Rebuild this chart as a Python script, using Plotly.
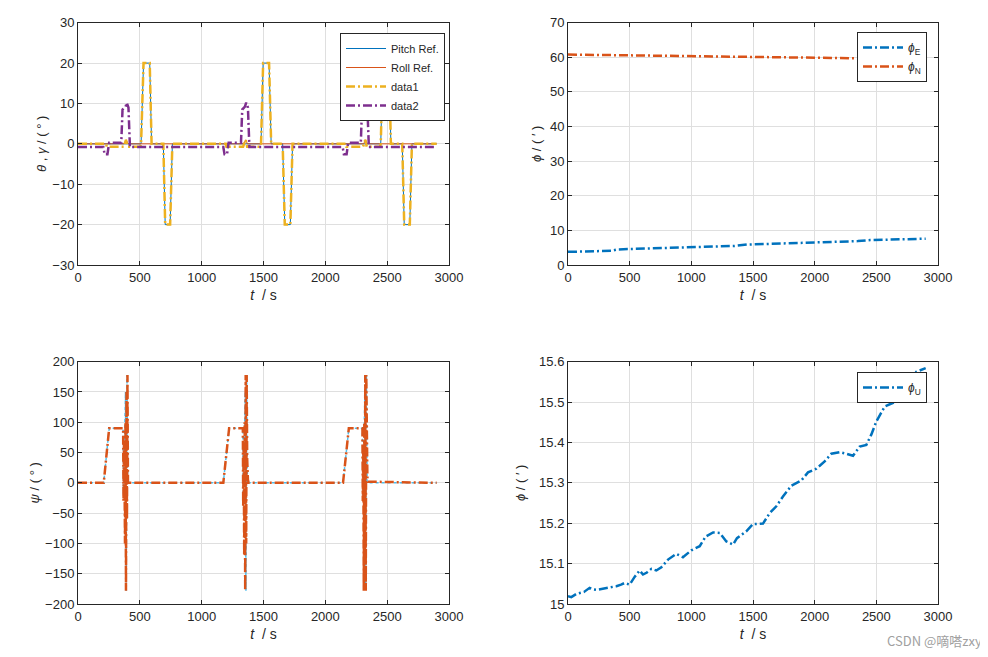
import plotly.graph_objects as go

# ---------------- data ----------------
# Top-left: pitch / roll reference and estimates (deg)
pitch_ref_t = [0, 510, 530, 580, 595, 690, 705, 745, 763, 1480, 1497, 1545, 1562, 1655, 1672, 1717, 1735,
               2448, 2465, 2515, 2530, 2622, 2638, 2683, 2700, 2900]
pitch_ref_v = [0, 0, 20, 20, 0, 0, -20, -20, 0, 0, 20, 20, 0, 0, -20, -20, 0,
               0, 20, 20, 0, 0, -20, -20, 0, 0]

roll_ref_t = [0, 375, 390, 405, 1340, 1356, 1370, 2310, 2325, 2340, 2900]
roll_ref_v = [0, 0, 1, 0, 0, 1, 0, 0, 1, 0, 0]

data1_t = [0, 228, 232, 370, 388, 400, 505, 510, 530, 580, 595, 690, 705, 745, 763,
           1195, 1200, 1335, 1355, 1368, 1475, 1480, 1497, 1545, 1562, 1655, 1672, 1717, 1735,
           2165, 2170, 2305, 2323, 2335, 2443, 2448, 2465, 2515, 2530, 2622, 2638, 2683, 2700, 2900]
data1_v = [0, 0, -0.7, -0.7, 1, -0.7, -0.7, 0, 20, 20, 0, 0, -20, -20, 0,
           0, -0.7, -0.7, 1, -0.7, -0.7, 0, 20, 20, 0, 0, -20, -20, 0,
           0, -0.7, -0.7, 1, -0.7, -0.7, 0, 20, 20, 0, 0, -20, -20, 0, 0]

data2_t = [0, 205, 215, 238, 252, 350, 360, 385, 394, 408, 420,
           1175, 1185, 1205, 1218, 1318, 1328, 1350, 1360, 1374, 1386,
           2140, 2150, 2172, 2185, 2287, 2296, 2318, 2327, 2340, 2352, 2900]
data2_v = [-0.8, -0.8, -2.6, -2.6, 0.3, 0.3, 8.5, 9.2, 10.2, 9.0, -0.8,
           -0.8, -2.6, -2.6, 0.3, 0.3, 8.5, 9.2, 10.2, 9.0, -0.8,
           -0.8, -2.6, -2.6, 0.3, 0.3, 8.5, 9.2, 10.2, 9.0, -0.8, -0.8]

# Top-right: phi_E / phi_N (arc-min)
phiE_t = [0, 350, 400, 1000, 1350, 1450, 2000, 2350, 2450, 2900]
phiE_v = [3.8, 4.1, 4.5, 5.1, 5.5, 5.9, 6.4, 6.9, 7.2, 7.6]
phiN_t = [0, 500, 1000, 1500, 2000, 2400, 2900]
phiN_v = [60.8, 60.6, 60.45, 60.2, 59.95, 59.7, 59.4]

# Bottom-left: yaw reference and estimate (deg)
psi_ref_t = [0, 208, 252, 365, 368, 376, 384, 390, 396, 402, 408, 415,
             1175, 1222, 1333, 1337, 1345, 1352, 1358, 1364, 1370, 1380,
             2143, 2190, 2300, 2304, 2312, 2320, 2326, 2332, 2338, 2348, 2900]
psi_ref_v = [0, 0, 90, 90, -20, 60, 150, -178, 178, 0, 2, 0,
             0, 90, 90, -30, 60, 150, -178, 178, 0, 0,
             0, 90, 90, -30, 60, 150, -178, 178, 0, 0, 0]
psi_t = [0, 208, 252, 365, 368, 372, 376, 380, 384, 388, 392, 396, 400, 404, 410, 415,
         1175, 1222, 1333, 1336, 1340, 1344, 1348, 1352, 1356, 1360, 1364, 1368, 1374, 1380,
         2143, 2190, 2300, 2303, 2307, 2311, 2315, 2319, 2323, 2327, 2331, 2335, 2340, 2345, 2900]
psi_v = [0, 0, 90, 90, -30, 70, 20, -100, 100, -178, 150, -60, 178, 0, 3, 0,
         0, 90, 90, -40, 60, -120, 100, -178, 178, -100, 178, 40, 5, 0,
         0, 90, 90, -30, 60, -178, 100, -120, 178, -178, 178, 40, 10, 2, 0]

# Bottom-right: phi_U (arc-min)
phiU_t = [0, 27, 68, 130, 175, 200, 230, 270, 311, 350, 392, 430, 459, 500, 520, 540, 581, 608, 640,
          676, 716, 757, 811, 878, 932, 1000, 1068, 1116, 1176, 1230, 1284, 1338, 1370, 1446,
          1500, 1581, 1635, 1689, 1743, 1811, 1892, 1946, 2014, 2081, 2135, 2203, 2257, 2311,
          2365, 2419, 2460, 2500, 2568, 2649, 2716, 2780, 2824, 2900]
phiU_v = [15.019, 15.017, 15.025, 15.030, 15.040, 15.036, 15.035, 15.037, 15.040, 15.042, 15.044, 15.048,
          15.052, 15.048, 15.058, 15.067, 15.083, 15.073, 15.078,
          15.087, 15.083, 15.091, 15.110, 15.124, 15.116, 15.133, 15.143, 15.167, 15.177, 15.176,
          15.155, 15.147, 15.163, 15.180,
          15.198, 15.199, 15.225, 15.242, 15.266, 15.293, 15.306, 15.326, 15.335, 15.353, 15.372,
          15.376, 15.372, 15.367,
          15.390, 15.394, 15.420, 15.452, 15.489, 15.500, 15.522, 15.550, 15.575, 15.584]

x_ticks = [0, 500, 1000, 1500, 2000, 2500, 3000]

# ---------------- styling ----------------
BLUE = "#0072BD"
ORANGE = "#D95319"
YELLOW = "#EDB120"
PURPLE = "#7E2F8E"
DASHDOT = "9px,3px,2px,3px"
FONT = "Liberation Sans, Arial, sans-serif"
OFF = 8  # page body margin
W, H = 988 - OFF, 657 - OFF


def px_x(p):
    return (p - OFF) / W


def px_y(p):
    return 1 - (p - OFF) / H


fig = go.Figure()

# Top-left
fig.add_trace(go.Scatter(x=pitch_ref_t, y=pitch_ref_v, mode="lines", name="Pitch Ref.",
                         line=dict(color=BLUE, width=1), xaxis="x", yaxis="y", legend="legend"))
fig.add_trace(go.Scatter(x=roll_ref_t, y=roll_ref_v, mode="lines", name="Roll Ref.",
                         line=dict(color=ORANGE, width=1), xaxis="x", yaxis="y", legend="legend"))
fig.add_trace(go.Scatter(x=data1_t, y=data1_v, mode="lines", name="data1",
                         line=dict(color=YELLOW, width=2.5, dash=DASHDOT), xaxis="x", yaxis="y", legend="legend"))
fig.add_trace(go.Scatter(x=data2_t, y=data2_v, mode="lines", name="data2",
                         line=dict(color=PURPLE, width=2.5, dash=DASHDOT), xaxis="x", yaxis="y", legend="legend"))

# Top-right
fig.add_trace(go.Scatter(x=phiE_t, y=phiE_v, mode="lines", name="<i>ϕ</i><sub>E</sub>",
                         line=dict(color=BLUE, width=2.5, dash=DASHDOT), xaxis="x2", yaxis="y2", legend="legend2"))
fig.add_trace(go.Scatter(x=phiN_t, y=phiN_v, mode="lines", name="<i>ϕ</i><sub>N</sub>",
                         line=dict(color=ORANGE, width=2.5, dash=DASHDOT), xaxis="x2", yaxis="y2", legend="legend2"))

# Bottom-left
fig.add_trace(go.Scatter(x=psi_ref_t, y=psi_ref_v, mode="lines", name="psi ref", showlegend=False,
                         line=dict(color="#4DBEEE", width=1.5, dash="dot"), xaxis="x3", yaxis="y3"))
fig.add_trace(go.Scatter(x=psi_t, y=psi_v, mode="lines", name="psi", showlegend=False,
                         line=dict(color=ORANGE, width=2.5, dash=DASHDOT), xaxis="x3", yaxis="y3"))

# Bottom-right
fig.add_trace(go.Scatter(x=phiU_t, y=phiU_v, mode="lines", name="<i>ϕ</i><sub>U</sub>",
                         line=dict(color=BLUE, width=2.5, dash=DASHDOT), xaxis="x4", yaxis="y4", legend="legend3"))

axis_common = dict(showline=True, linecolor="#262626", linewidth=1, mirror="ticks",
                   ticks="inside", ticklen=4, tickcolor="#262626", automargin=False,
                   showgrid=True, gridcolor="#DFDFDF", gridwidth=1, zeroline=False,
                   tickfont=dict(family=FONT, size=13, color="#262626"))

xdom_l = [px_x(78), px_x(449)]
xdom_r = [px_x(568), px_x(938)]
ydom_t = [px_y(265), px_y(22.7)]
ydom_b = [px_y(604), px_y(361.7)]

xtitle = dict(text="<i>t</i>  / s", font=dict(family=FONT, size=14, color="#262626"), standoff=6)


def ytitle(txt, standoff):
    return dict(text=txt, font=dict(family=FONT, size=13, color="#262626"), standoff=standoff)


fig.update_layout(
    width=W, height=H,
    margin=dict(l=0, r=0, t=0, b=0),
    paper_bgcolor="white", plot_bgcolor="white",
    font=dict(family=FONT, color="#262626"),
    xaxis=dict(domain=xdom_l, anchor="y", range=[0, 3000], tickvals=x_ticks, title=xtitle, **axis_common),
    yaxis=dict(domain=ydom_t, anchor="x", range=[-30, 30], dtick=10,
               title=ytitle("<i>θ</i> , <i>γ</i> / ( ° )", 2), **axis_common),
    xaxis2=dict(domain=xdom_r, anchor="y2", range=[0, 3000], tickvals=x_ticks, title=xtitle, **axis_common),
    yaxis2=dict(domain=ydom_t, anchor="x2", range=[0, 70], dtick=10,
                title=ytitle("<i>ϕ</i> / ( ′ )", 5), **axis_common),
    xaxis3=dict(domain=xdom_l, anchor="y3", range=[0, 3000], tickvals=x_ticks, title=xtitle, **axis_common),
    yaxis3=dict(domain=ydom_b, anchor="x3", range=[-200, 200], dtick=50,
                title=ytitle("<i>ψ</i> / ( ° )", 2), **axis_common),
    xaxis4=dict(domain=xdom_r, anchor="y4", range=[0, 3000], tickvals=x_ticks, title=xtitle, **axis_common),
    yaxis4=dict(domain=ydom_b, anchor="x4", range=[15, 15.6], dtick=0.1,
                title=ytitle("<i>ϕ</i> / ( ′ )", 10), **axis_common),
    legend=dict(x=px_x(445), y=px_y(33), xanchor="right", yanchor="top",
                bgcolor="white", bordercolor="#262626", borderwidth=1,
                font=dict(family=FONT, size=11, color="#262626"), itemwidth=40,
                tracegroupgap=0),
    legend2=dict(x=px_x(927), y=px_y(32), xanchor="right", yanchor="top",
                 bgcolor="white", bordercolor="#262626", borderwidth=1,
                 font=dict(family=FONT, size=12, color="#262626"), itemwidth=40),
    legend3=dict(x=px_x(927), y=px_y(372), xanchor="right", yanchor="top",
                 bgcolor="white", bordercolor="#262626", borderwidth=1,
                 font=dict(family=FONT, size=12, color="#262626"), itemwidth=40),
    annotations=[dict(text="CSDN @嘀嗒zxy", x=px_x(984), y=px_y(640), xref="paper", yref="paper",
                      xanchor="right", yanchor="middle", showarrow=False,
                      font=dict(family="Noto Sans CJK SC", size=13, color="#A0A0A0"))],
)

fig.write_html("out.html")
